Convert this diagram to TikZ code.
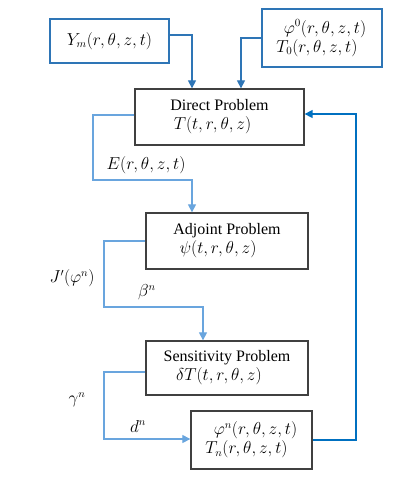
\documentclass[tikz,border=0pt]{standalone}
\usepackage{fontspec}
\setmainfont{Liberation Serif}
\usetikzlibrary{arrows.meta}
\definecolor{inblue}{RGB}{46,117,182}
\definecolor{lightblue}{RGB}{105,165,222}
\definecolor{fbblue}{RGB}{0,112,192}
\definecolor{boxgray}{RGB}{64,64,64}
\tikzset{
  every node/.style={font=\fontsize{16}{19}\selectfont},
  inbox/.style={draw=inblue, line width=1.2pt, inner sep=0pt, align=center},
  probbox/.style={draw=boxgray, line width=1.3pt, inner sep=0pt, align=center},
  inarrow/.style={draw=inblue, line width=1.2pt, -{Triangle[length=8pt,width=8pt]}},
  linkarrow/.style={draw=lightblue, line width=1.2pt, -{Triangle[length=8pt,width=8pt]}},
  fbarrow/.style={draw=fbblue, line width=1.4pt, -{Triangle[length=8pt,width=8pt]}},
  lbl/.style={inner sep=0pt}
}
\begin{document}
\begin{tikzpicture}[x=1pt,y=-1pt]
\useasboundingbox (0,0) rectangle (412,480);
% input boxes
\node[inbox, minimum width=119pt, minimum height=44pt] (ym) at (109.5,41) {$Y_m(r,\theta,z,t)$};
\node[inbox, minimum width=120pt, minimum height=58pt] (phi0) at (322,38)
  {\hspace*{6pt}$\varphi^0(r,\theta,z,t)$\\\hspace*{-10pt}$T_0(r,\theta,z,t)$};
% problem boxes
\node[probbox, minimum width=169pt, minimum height=56pt] (direct) at (219.5,117)
  {Direct Problem\\\hspace*{-14pt}$T(t,r,\theta,z)$};
\node[probbox, minimum width=162pt, minimum height=56pt] (adjoint) at (227,241)
  {Adjoint Problem\\\hspace*{-18pt}$\psi(t,r,\theta,z)$};
\node[probbox, minimum width=162pt, minimum height=54pt] (sens) at (227,368)
  {Sensitivity Problem\\\hspace*{-16pt}$\delta T(t,r,\theta,z)$};
\node[probbox, minimum width=121pt, minimum height=58pt] (phin) at (251.5,440)
  {\hspace*{8pt}$\varphi^n(r,\theta,z,t)$\\\hspace*{-10pt}$T_n(r,\theta,z,t)$};
% corner coordinates
\coordinate (c1) at (93,180);
\coordinate (c2) at (104,307);
\coordinate (c3) at (104,439);
\coordinate (fb) at (356,114);
% input arrows
\draw[inarrow] ([yshift=6pt]ym.east) -| ([xshift=-27.5pt]direct.north);
\draw[inarrow] (phi0.west) -| ([xshift=21.5pt]direct.north);
% internal links
\draw[linkarrow] ([yshift=2pt]direct.west) -| (c1) -| ([xshift=-35pt]adjoint.north);
\draw[linkarrow] (adjoint.west) -| (c2) -| ([xshift=-24pt]sens.north);
\draw[linkarrow] ([yshift=-4pt]sens.west) -| (c3) -- (c3 -| phin.west);
% feedback
\draw[fbarrow] (phin.east) -| (fb) -- (fb -| direct.east);
% labels
\node[lbl] (lE) at (146,165) {$E(r,\theta,z,t)$};
\node[lbl] (lJ) at (72,278) {$J'(\varphi^n)$};
\node[lbl] (lb) at (147,292) {$\beta^n$};
\node[lbl] (lg) at (77,400) {$\gamma^n$};
\node[lbl] (ld) at (138,426) {$d^n$};
\end{tikzpicture}
\end{document}
